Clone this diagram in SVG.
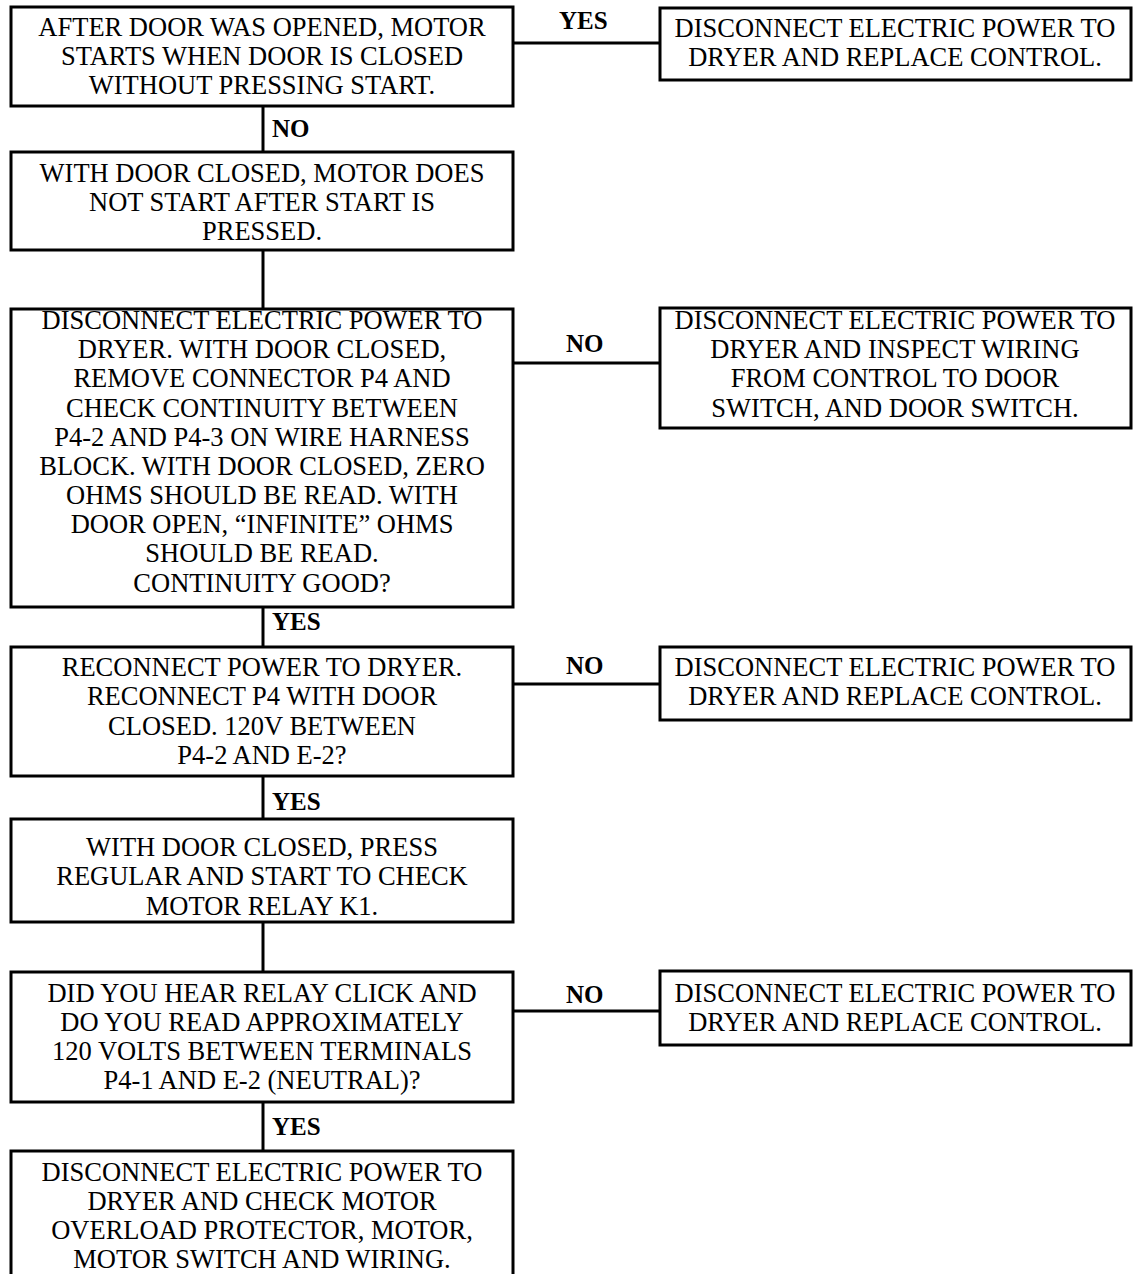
<svg xmlns="http://www.w3.org/2000/svg" width="1133" height="1274" viewBox="0 0 1133 1274">
<style>
.box{fill:#fff;stroke:#000;stroke-width:3}
.ln{stroke:#000;stroke-width:3;fill:none}
.t{font-family:"Liberation Serif","Times New Roman",serif;font-size:26.5px;fill:#000;text-anchor:middle}
.lb{font-family:"Liberation Serif","Times New Roman",serif;font-size:25px;font-weight:bold;fill:#000}
</style>
<rect width="1133" height="1274" fill="#fff"/>
<g id="connectors">
<line class="ln" x1="513" y1="43" x2="660" y2="43"/>
<line class="ln" x1="263" y1="106" x2="263" y2="152"/>
<line class="ln" x1="263" y1="250" x2="263" y2="309"/>
<line class="ln" x1="513" y1="363" x2="660" y2="363"/>
<line class="ln" x1="263" y1="607" x2="263" y2="647"/>
<line class="ln" x1="513" y1="684" x2="660" y2="684"/>
<line class="ln" x1="263" y1="776" x2="263" y2="819"/>
<line class="ln" x1="263" y1="922" x2="263" y2="972"/>
<line class="ln" x1="513" y1="1011" x2="660" y2="1011"/>
<line class="ln" x1="263" y1="1102" x2="263" y2="1151"/>
<text class="lb" x="559" y="29">YES</text>
<text class="lb" x="272" y="137">NO</text>
<text class="lb" x="566" y="352">NO</text>
<text class="lb" x="272" y="630">YES</text>
<text class="lb" x="566" y="674">NO</text>
<text class="lb" x="272" y="810">YES</text>
<text class="lb" x="566" y="1003">NO</text>
<text class="lb" x="272" y="1135">YES</text>
</g>
<g id="n1">
<rect class="box" x="11" y="7" width="502" height="99"/>
<text class="t" x="262" y="36">AFTER DOOR WAS OPENED, MOTOR</text>
<text class="t" x="262" y="65">STARTS WHEN DOOR IS CLOSED</text>
<text class="t" x="262" y="94">WITHOUT PRESSING START.</text>
</g>
<g id="r1">
<rect class="box" x="660" y="8" width="471" height="72"/>
<text class="t" x="895" y="37">DISCONNECT ELECTRIC POWER TO</text>
<text class="t" x="895" y="66">DRYER AND REPLACE CONTROL.</text>
</g>
<g id="n2">
<rect class="box" x="11" y="152" width="502" height="98"/>
<text class="t" x="262" y="182">WITH DOOR CLOSED, MOTOR DOES</text>
<text class="t" x="262" y="211">NOT START AFTER START IS</text>
<text class="t" x="262" y="240">PRESSED.</text>
</g>
<g id="n3">
<rect class="box" x="11" y="309" width="502" height="298"/>
<text class="t" x="262" y="329">DISCONNECT ELECTRIC POWER TO</text>
<text class="t" x="262" y="358">DRYER. WITH DOOR CLOSED,</text>
<text class="t" x="262" y="387">REMOVE CONNECTOR P4 AND</text>
<text class="t" x="262" y="417">CHECK CONTINUITY BETWEEN</text>
<text class="t" x="262" y="446">P4-2 AND P4-3 ON WIRE HARNESS</text>
<text class="t" x="262" y="475">BLOCK. WITH DOOR CLOSED, ZERO</text>
<text class="t" x="262" y="504">OHMS SHOULD BE READ. WITH</text>
<text class="t" x="262" y="533">DOOR OPEN, “INFINITE” OHMS</text>
<text class="t" x="262" y="562">SHOULD BE READ.</text>
<text class="t" x="262" y="592">CONTINUITY GOOD?</text>
</g>
<g id="r2">
<rect class="box" x="660" y="308" width="471" height="120"/>
<text class="t" x="895" y="329">DISCONNECT ELECTRIC POWER TO</text>
<text class="t" x="895" y="358">DRYER AND INSPECT WIRING</text>
<text class="t" x="895" y="387">FROM CONTROL TO DOOR</text>
<text class="t" x="895" y="417">SWITCH, AND DOOR SWITCH.</text>
</g>
<g id="n4">
<rect class="box" x="11" y="647" width="502" height="129"/>
<text class="t" x="262" y="676">RECONNECT POWER TO DRYER.</text>
<text class="t" x="262" y="705">RECONNECT P4 WITH DOOR</text>
<text class="t" x="262" y="735">CLOSED. 120V BETWEEN</text>
<text class="t" x="262" y="764">P4-2 AND E-2?</text>
</g>
<g id="r3">
<rect class="box" x="660" y="647" width="471" height="73"/>
<text class="t" x="895" y="676">DISCONNECT ELECTRIC POWER TO</text>
<text class="t" x="895" y="705">DRYER AND REPLACE CONTROL.</text>
</g>
<g id="n5">
<rect class="box" x="11" y="819" width="502" height="103"/>
<text class="t" x="262" y="856">WITH DOOR CLOSED, PRESS</text>
<text class="t" x="262" y="885">REGULAR AND START TO CHECK</text>
<text class="t" x="262" y="915">MOTOR RELAY K1.</text>
</g>
<g id="n6">
<rect class="box" x="11" y="972" width="502" height="130"/>
<text class="t" x="262" y="1002">DID YOU HEAR RELAY CLICK AND</text>
<text class="t" x="262" y="1031">DO YOU READ APPROXIMATELY</text>
<text class="t" x="262" y="1060">120 VOLTS BETWEEN TERMINALS</text>
<text class="t" x="262" y="1089">P4-1 AND E-2 (NEUTRAL)?</text>
</g>
<g id="r4">
<rect class="box" x="660" y="971" width="471" height="74"/>
<text class="t" x="895" y="1002">DISCONNECT ELECTRIC POWER TO</text>
<text class="t" x="895" y="1031">DRYER AND REPLACE CONTROL.</text>
</g>
<g id="n7">
<rect class="box" x="11" y="1151" width="502" height="140"/>
<text class="t" x="262" y="1181">DISCONNECT ELECTRIC POWER TO</text>
<text class="t" x="262" y="1210">DRYER AND CHECK MOTOR</text>
<text class="t" x="262" y="1239">OVERLOAD PROTECTOR, MOTOR,</text>
<text class="t" x="262" y="1268">MOTOR SWITCH AND WIRING.</text>
</g>
</svg>
